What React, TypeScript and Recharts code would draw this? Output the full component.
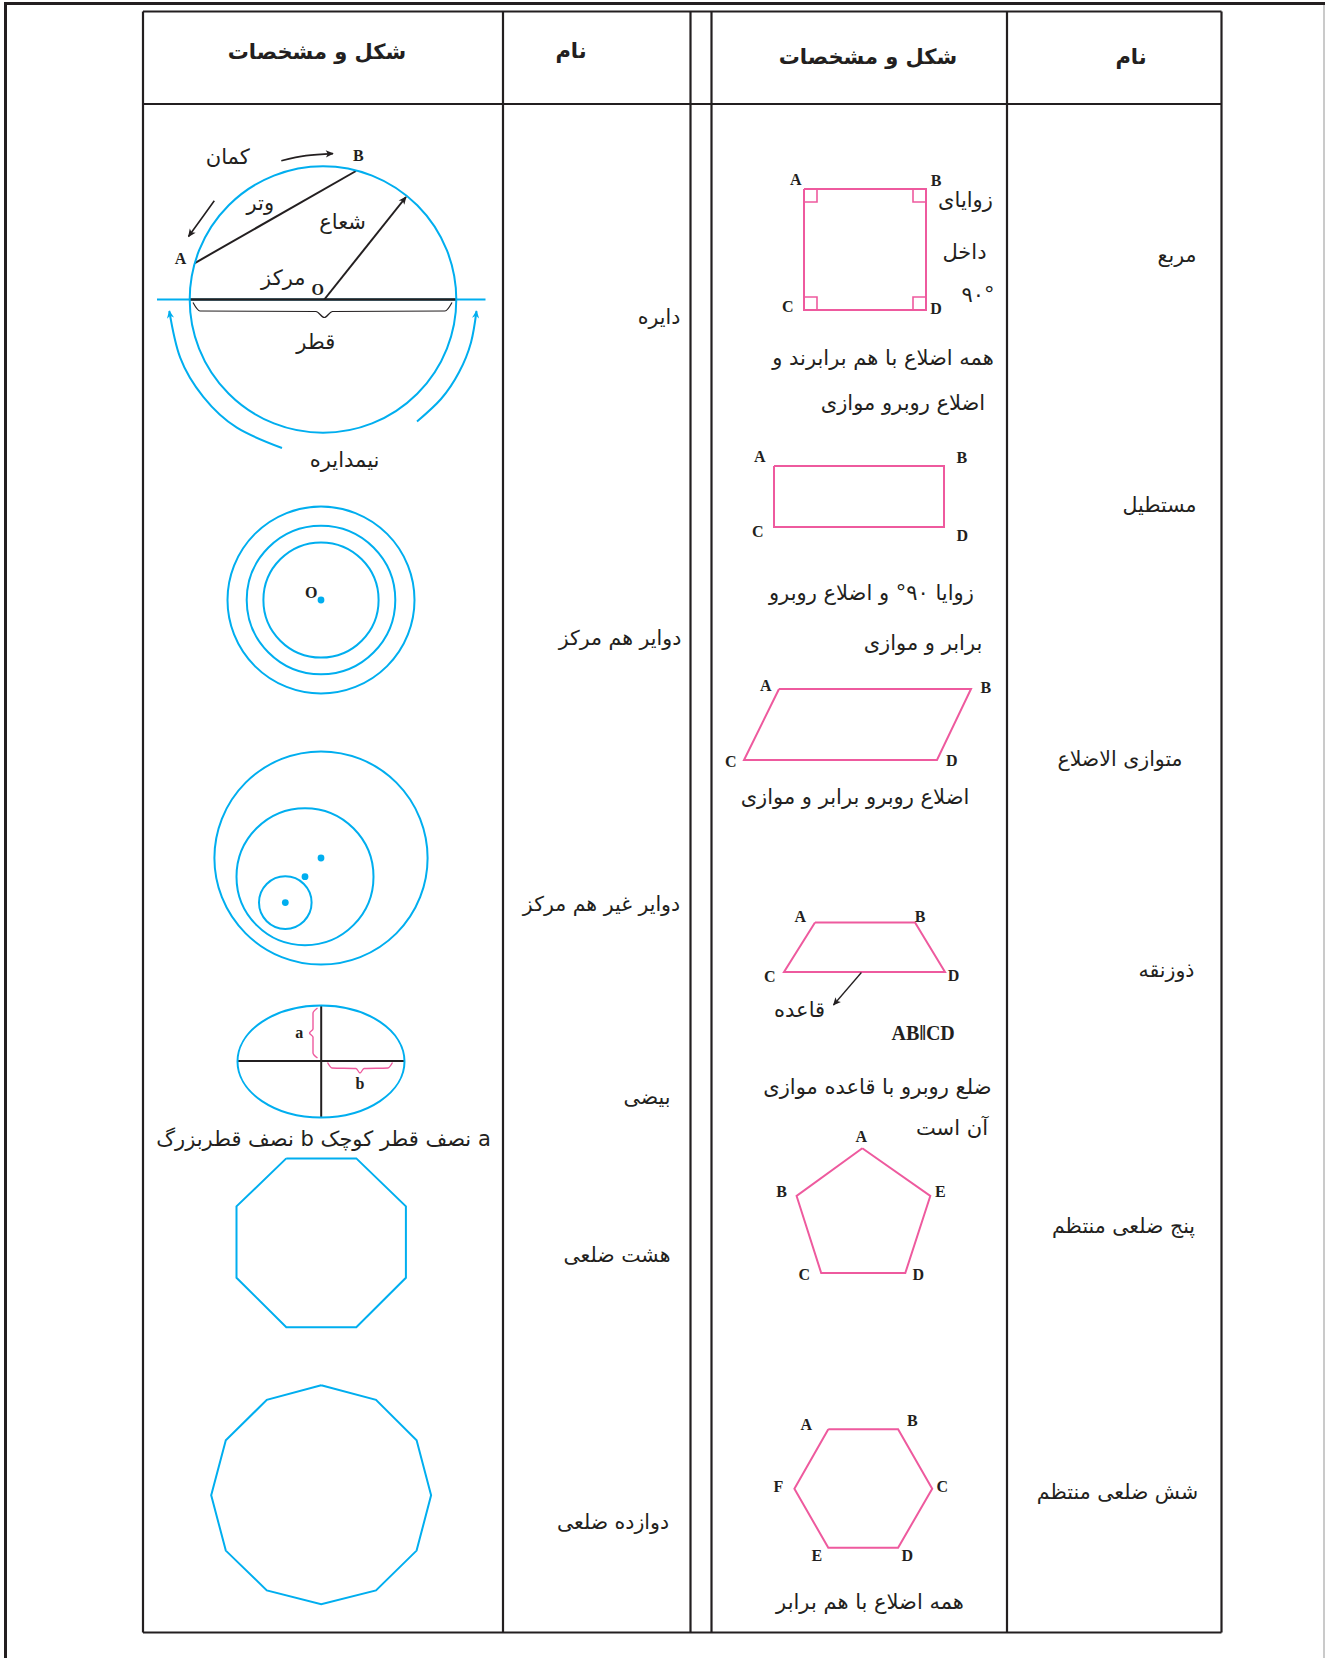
import React from "react";
import { ComposedChart, Line, ReferenceLine, Scatter, XAxis, YAxis } from "recharts";

const W = 1325;
const H = 1658;

const ink = "#231f20";
const cyan = "#00aeef";
const pink = "#ee5a9e";

type Pt = { x: number; y: number };
type Tag = { x: number; y: number; text: string };
type Ring = { x: number; y: number; r: number };
type Rule = { x1: number; y1: number; x2: number; y2: number };

// page frame and table grid
const pageRules: Rule[] = [
  { x1: 4, y1: 3.5, x2: 1325, y2: 3.5 },
  { x1: 5.5, y1: 2, x2: 5.5, y2: 1658 },
];
const tableRules: Rule[] = [
  { x1: 143, y1: 11.5, x2: 1221.5, y2: 11.5 },
  { x1: 143, y1: 104, x2: 1221.5, y2: 104 },
  { x1: 143, y1: 1632.5, x2: 1221.5, y2: 1632.5 },
  { x1: 143, y1: 11.5, x2: 143, y2: 1632.5 },
  { x1: 503, y1: 11.5, x2: 503, y2: 1632.5 },
  { x1: 690.5, y1: 11.5, x2: 690.5, y2: 1632.5 },
  { x1: 711.5, y1: 11.5, x2: 711.5, y2: 1632.5 },
  { x1: 1007, y1: 11.5, x2: 1007, y2: 1632.5 },
  { x1: 1221.5, y1: 11.5, x2: 1221.5, y2: 1632.5 },
];

const headers: Tag[] = [
  { x: 317, y: 52, text: "شکل و مشخصات" },
  { x: 571, y: 51, text: "نام" },
  { x: 868, y: 57, text: "شکل و مشخصات" },
  { x: 1131, y: 57, text: "نام" },
];

const shapeNames: Tag[] = [
  { x: 659, y: 317, text: "دایره" },
  { x: 620, y: 638, text: "دوایر هم مرکز" },
  { x: 601.5, y: 904, text: "دوایر غیر هم مرکز" },
  { x: 647, y: 1097, text: "بیضی" },
  { x: 617, y: 1255, text: "هشت ضلعی" },
  { x: 613, y: 1522, text: "دوازده ضلعی" },
  { x: 1177, y: 255, text: "مربع" },
  { x: 1159.5, y: 505, text: "مستطیل" },
  { x: 1120, y: 759, text: "متوازی الاضلاع" },
  { x: 1166.5, y: 970, text: "ذوزنقه" },
  { x: 1123.5, y: 1226, text: "پنج ضلعی منتظم" },
  { x: 1117.5, y: 1492, text: "شش ضلعی منتظم" },
];

const notes: Tag[] = [
  { x: 227.7, y: 157, text: "کمان" },
  { x: 260.3, y: 203, text: "وتر" },
  { x: 342.6, y: 221.7, text: "شعاع" },
  { x: 283.3, y: 278.3, text: "مرکز" },
  { x: 315.8, y: 341.7, text: "قطر" },
  { x: 344.6, y: 460, text: "نیمدایره" },
  { x: 323.5, y: 1139, text: "a نصف قطر کوچک  b نصف قطربزرگ" },
  { x: 965.5, y: 200, text: "زوایای" },
  { x: 964.5, y: 251.7, text: "داخل" },
  { x: 978, y: 295, text: "۹۰°" },
  { x: 883, y: 358.3, text: "همه اضلاع با هم برابرند و" },
  { x: 903, y: 403.3, text: "اضلاع روبرو موازی" },
  { x: 871.4, y: 593.3, text: "زوایا ۹۰° و اضلاع روبرو" },
  { x: 923, y: 643.3, text: "برابر و موازی" },
  { x: 855, y: 796.7, text: "اضلاع روبرو برابر و موازی" },
  { x: 799.6, y: 1010, text: "قاعده" },
  { x: 877.4, y: 1086.7, text: "ضلع روبرو با قاعده موازی" },
  { x: 952, y: 1128.3, text: "آن است" },
  { x: 870, y: 1601.7, text: "همه اضلاع با هم برابر" },
];

const vertexTags: Tag[] = [
  { x: 358.3, y: 155.7, text: "B" },
  { x: 180.6, y: 258.7, text: "A" },
  { x: 317.7, y: 289.3, text: "O" },
  { x: 311.2, y: 592.7, text: "O" },
  { x: 299.3, y: 1032, text: "a" },
  { x: 359.9, y: 1083, text: "b" },
  { x: 795.7, y: 179, text: "A" },
  { x: 936, y: 180, text: "B" },
  { x: 787.7, y: 306, text: "C" },
  { x: 936, y: 308.3, text: "D" },
  { x: 759.8, y: 456, text: "A" },
  { x: 961.9, y: 457.7, text: "B" },
  { x: 757.8, y: 531, text: "C" },
  { x: 962.3, y: 535, text: "D" },
  { x: 765.8, y: 685.3, text: "A" },
  { x: 985.8, y: 687.3, text: "B" },
  { x: 730.7, y: 761, text: "C" },
  { x: 951.9, y: 760, text: "D" },
  { x: 800.4, y: 916.7, text: "A" },
  { x: 920, y: 916.7, text: "B" },
  { x: 769.7, y: 976.7, text: "C" },
  { x: 953.5, y: 975, text: "D" },
  { x: 861.4, y: 1136.7, text: "A" },
  { x: 781.7, y: 1191.7, text: "B" },
  { x: 940.3, y: 1191.7, text: "E" },
  { x: 804.4, y: 1274, text: "C" },
  { x: 918.4, y: 1274, text: "D" },
  { x: 806.4, y: 1424, text: "A" },
  { x: 912.4, y: 1420.7, text: "B" },
  { x: 942.3, y: 1486.7, text: "C" },
  { x: 907.3, y: 1555.3, text: "D" },
  { x: 816.8, y: 1555.3, text: "E" },
  { x: 778.5, y: 1486.7, text: "F" },
];
const parallelTag: Tag[] = [{ x: 923.2, y: 1033.3, text: "AB‖CD" }];

// blue circles
const circles: Ring[] = [
  { x: 323, y: 299.5, r: 133.3 },
  { x: 321, y: 600, r: 93.5 },
  { x: 321, y: 600, r: 74.3 },
  { x: 321, y: 600, r: 57.6 },
  { x: 321, y: 858, r: 106.6 },
  { x: 305, y: 876.7, r: 68.5 },
  { x: 285.3, y: 902.6, r: 26.3 },
];
const centres: Pt[] = [
  { x: 321, y: 600 },
  { x: 321, y: 858 },
  { x: 305, y: 876.7 },
  { x: 285.3, y: 902.6 },
];
const ellipses = [{ x: 321, y: 1061.5, rx: 83.5, ry: 56 }];

// blue polygons
const octagon: Pt[] = [
  { x: 286.3, y: 1158.4 }, { x: 356.3, y: 1158.4 }, { x: 405.9, y: 1206.4 }, { x: 405.9, y: 1277.8 },
  { x: 356.3, y: 1327.2 }, { x: 286.3, y: 1327.2 }, { x: 236.5, y: 1277.8 }, { x: 236.5, y: 1206.4 },
  { x: 286.3, y: 1158.4 },
];
const dodecagon: Pt[] = [
  { x: 321.2, y: 1385.2 }, { x: 376, y: 1399.9 }, { x: 416.6, y: 1440.2 }, { x: 431.1, y: 1495.2 },
  { x: 416.6, y: 1550.6 }, { x: 376, y: 1590.4 }, { x: 321.2, y: 1604.2 }, { x: 266.8, y: 1590.4 },
  { x: 225.8, y: 1550.6 }, { x: 211.2, y: 1495.2 }, { x: 225.8, y: 1440.2 }, { x: 266.8, y: 1399.9 },
  { x: 321.2, y: 1385.2 },
];

// pink polygons
const square: Pt[] = [
  { x: 804, y: 189 }, { x: 926, y: 189 }, { x: 926, y: 310 }, { x: 804, y: 310 }, { x: 804, y: 189 },
];
const rightAngles: Pt[][] = [
  [{ x: 804, y: 202 }, { x: 817, y: 202 }, { x: 817, y: 189 }],
  [{ x: 913, y: 189 }, { x: 913, y: 202 }, { x: 926, y: 202 }],
  [{ x: 804, y: 297 }, { x: 817, y: 297 }, { x: 817, y: 310 }],
  [{ x: 913, y: 310 }, { x: 913, y: 297 }, { x: 926, y: 297 }],
];
const rectangle: Pt[] = [
  { x: 774, y: 466 }, { x: 944, y: 466 }, { x: 944, y: 527 }, { x: 774, y: 527 }, { x: 774, y: 466 },
];
const parallelogram: Pt[] = [
  { x: 779, y: 689 }, { x: 971, y: 689 }, { x: 937, y: 760 }, { x: 744, y: 760 }, { x: 779, y: 689 },
];
const trapezoid: Pt[] = [
  { x: 815, y: 922.5 }, { x: 915, y: 922.5 }, { x: 945, y: 972 }, { x: 784, y: 972 }, { x: 815, y: 922.5 },
];
const pentagon: Pt[] = [
  { x: 862.3, y: 1148.3 }, { x: 930.3, y: 1196 }, { x: 905.3, y: 1273 }, { x: 821.2, y: 1273 },
  { x: 796.6, y: 1196 }, { x: 862.3, y: 1148.3 },
];
const hexagon: Pt[] = [
  { x: 828.3, y: 1429.3 }, { x: 898.1, y: 1429.3 }, { x: 932.2, y: 1488.7 }, { x: 898.1, y: 1547.8 },
  { x: 828.3, y: 1547.8 }, { x: 794.4, y: 1488.7 }, { x: 828.3, y: 1429.3 },
];

// black strokes of the circle figure
const chord: Pt[] = [{ x: 194.4, y: 263.3 }, { x: 356, y: 171 }];
const radius: Pt[] = [{ x: 324.3, y: 299.5 }, { x: 406, y: 197 }];
const diameterAxis: Pt[] = [{ x: 157, y: 299.5 }, { x: 485.5, y: 299.5 }];
const diameter: Pt[] = [{ x: 189.5, y: 299.5 }, { x: 456.5, y: 299.5 }];
const diameterBrace: Pt[] = [
  { x: 193, y: 302.5 }, { x: 200, y: 311 }, { x: 316, y: 311.5 }, { x: 324.3, y: 317.5 },
  { x: 332.5, y: 311.5 }, { x: 445, y: 311 }, { x: 452, y: 302.5 },
];
const arcArrowTop: Pt[] = [{ x: 281.3, y: 160.7 }, { x: 306, y: 155.6 }, { x: 333, y: 153.6 }];
const arcArrowLeft: Pt[] = [{ x: 214.3, y: 200.7 }, { x: 202.8, y: 216.7 }, { x: 188.5, y: 236.5 }];
const halfArcLeft: Pt[] = [
  { x: 282, y: 448 }, { x: 236.9, y: 427.7 }, { x: 203.3, y: 396.9 }, { x: 180.2, y: 357.7 }, { x: 169.3, y: 311 },
];
const halfArcRight: Pt[] = [
  { x: 417, y: 421.5 }, { x: 441, y: 399 }, { x: 459, y: 372.3 }, { x: 471, y: 342.4 }, { x: 476.5, y: 311 },
];

// ellipse axes and braces
const ellipseMajor: Pt[] = [{ x: 237.5, y: 1061 }, { x: 404.5, y: 1061 }];
const ellipseMinor: Pt[] = [{ x: 321.2, y: 1005.5 }, { x: 321.2, y: 1118 }];
const braceA: Pt[] = [
  { x: 317.5, y: 1008 }, { x: 313, y: 1013 }, { x: 313, y: 1029 }, { x: 309.5, y: 1033 },
  { x: 313, y: 1037 }, { x: 313, y: 1053 }, { x: 317.5, y: 1058 },
];
const braceB: Pt[] = [
  { x: 327.5, y: 1062.5 }, { x: 332, y: 1068 }, { x: 356, y: 1068.5 }, { x: 360, y: 1073 },
  { x: 364, y: 1068.5 }, { x: 388, y: 1068 }, { x: 392.5, y: 1062.5 },
];
const baseArrow: Pt[] = [{ x: 861.4, y: 972.5 }, { x: 833.5, y: 1005 }];

const persian = "'DejaVu Sans', sans-serif";
const latin = "'Liberation Serif', 'DejaVu Serif', serif";

function textShape(size: number, weight: number, family: string) {
  return (p: any) => (
    <text
      x={p.cx}
      y={p.cy}
      textAnchor="middle"
      dominantBaseline="central"
      direction="rtl"
      fontSize={size}
      fontWeight={weight}
      fontFamily={family}
      fill={ink}
    >
      {p.payload.text}
    </text>
  );
}

function stroke(data: Pt[], color: string, width: number, type: any = "linear", marker?: string, key?: string) {
  return (
    <Line
      key={key}
      data={data}
      dataKey="y"
      type={type}
      stroke={color}
      strokeWidth={width}
      strokeLinejoin="miter"
      dot={false}
      activeDot={false}
      legendType="none"
      markerEnd={marker}
      isAnimationActive={false}
    />
  );
}

export default function App() {
  return (
    <div style={{ position: "absolute", left: 0, top: 0, background: "#fff" }}>
      <ComposedChart width={W} height={H} margin={{ top: 0, right: 0, bottom: 0, left: 0 }}>
        <defs>
          <marker id="tipInk" viewBox="0 0 10 10" refX="9" refY="5" markerWidth="10" markerHeight="8"
            markerUnits="userSpaceOnUse" orient="auto">
            <path d="M0,0.5 L10,5 L0,9.5 L2.5,5 z" fill={ink} />
          </marker>
          <marker id="tipCyan" viewBox="0 0 10 10" refX="9" refY="5" markerWidth="12" markerHeight="8"
            markerUnits="userSpaceOnUse" orient="auto">
            <path d="M0,0.5 L10,5 L0,9.5 L3,5 z" fill={cyan} />
          </marker>
        </defs>
        <XAxis type="number" dataKey="x" domain={[0, W]} hide allowDataOverflow />
        <YAxis type="number" dataKey="y" domain={[0, H]} hide reversed allowDataOverflow />

        {pageRules.map((r, i) => (
          <ReferenceLine key={`p${i}`} segment={[{ x: r.x1, y: r.y1 }, { x: r.x2, y: r.y2 }]}
            stroke={ink} strokeWidth={3} ifOverflow="visible" />
        ))}
        <ReferenceLine segment={[{ x: 1324, y: 5 }, { x: 1324, y: 1658 }]} stroke="#b8b8b8" strokeWidth={1.5} ifOverflow="visible" />
        {tableRules.map((r, i) => (
          <ReferenceLine key={`t${i}`} segment={[{ x: r.x1, y: r.y1 }, { x: r.x2, y: r.y2 }]}
            stroke={ink} strokeWidth={2.2} ifOverflow="visible" />
        ))}

        {/* circle figure */}
        {stroke(diameterAxis, cyan, 2)}
        {stroke(diameter, ink, 2.6)}
        {stroke(chord, ink, 2)}
        {stroke(radius, ink, 2, "linear", "url(#tipInk)")}
        {stroke(diameterBrace, ink, 1.2, "monotoneX")}
        {stroke(arcArrowTop, ink, 1.6, "natural", "url(#tipInk)")}
        {stroke(arcArrowLeft, ink, 1.6, "natural", "url(#tipInk)")}
        {stroke(halfArcLeft, cyan, 2, "natural", "url(#tipCyan)")}
        {stroke(halfArcRight, cyan, 2, "natural", "url(#tipCyan)")}

        <Scatter data={circles} isAnimationActive={false} legendType="none"
          shape={(p: any) => <circle cx={p.cx} cy={p.cy} r={p.payload.r} fill="none" stroke={cyan} strokeWidth={2} />} />
        <Scatter data={centres} isAnimationActive={false} legendType="none"
          shape={(p: any) => <circle cx={p.cx} cy={p.cy} r={3.4} fill={cyan} />} />
        <Scatter data={ellipses} isAnimationActive={false} legendType="none"
          shape={(p: any) => <ellipse cx={p.cx} cy={p.cy} rx={p.payload.rx} ry={p.payload.ry} fill="none" stroke={cyan} strokeWidth={2} />} />

        {/* ellipse axes */}
        {stroke(ellipseMajor, ink, 2)}
        {stroke(ellipseMinor, ink, 2)}
        {stroke(braceA, pink, 1.4, "monotoneY")}
        {stroke(braceB, pink, 1.4, "monotoneX")}

        {stroke(octagon, cyan, 2)}
        {stroke(dodecagon, cyan, 2)}

        {stroke(square, pink, 2)}
        {rightAngles.map((r, i) => stroke(r, pink, 1.6, "linear", undefined, `ra${i}`))}
        {stroke(rectangle, pink, 2)}
        {stroke(parallelogram, pink, 2)}
        {stroke(trapezoid, pink, 2)}
        {stroke(baseArrow, ink, 1.3, "linear", "url(#tipInk)")}
        {stroke(pentagon, pink, 2)}
        {stroke(hexagon, pink, 2)}

        <Scatter data={headers} isAnimationActive={false} legendType="none" shape={textShape(21, 700, persian)} />
        <Scatter data={shapeNames} isAnimationActive={false} legendType="none" shape={textShape(20.5, 400, persian)} />
        <Scatter data={notes} isAnimationActive={false} legendType="none" shape={textShape(21, 400, persian)} />
        <Scatter data={vertexTags} isAnimationActive={false} legendType="none" shape={textShape(16, 700, latin)} />
        <Scatter data={parallelTag} isAnimationActive={false} legendType="none" shape={textShape(20, 700, latin)} />
      </ComposedChart>
    </div>
  );
}
